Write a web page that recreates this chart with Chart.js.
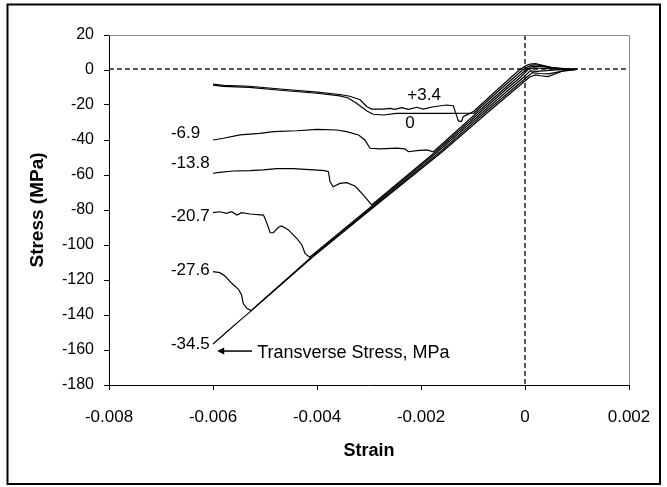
<!DOCTYPE html>
<html>
<head>
<meta charset="utf-8">
<script src="https://cdn.jsdelivr.net/npm/chart.js@4.4.0/dist/chart.umd.min.js"></script>
<style>
  html, body { margin: 0; padding: 0; background: #fff; }
</style>
</head>
<body>
<canvas id="myChart" width="667" height="487"></canvas>
<script>
// [strain, stress MPa] pairs, one list per transverse stress level
const curveP34 = [[-0.006,-8],[-0.0058,-8.8],[-0.0053,-9.3],[-0.00465,-11],[-0.004,-12.6],[-0.00356,-14],[-0.00337,-15],[-0.00317,-17],[-0.00304,-21],[-0.00295,-22.3],[-0.00272,-22.3],[-0.0026,-21.9],[-0.0025,-22.5],[-0.00237,-21.5],[-0.00224,-22.5],[-0.00208,-21.3],[-0.00196,-22.3],[-0.00176,-21],[-0.00151,-20],[-0.00138,-20.4],[-0.00133,-24.8],[-0.00128,-29.1],[-0.00122,-29.5],[-0.00119,-26.7],[-0.00106,-24.8],[-0.00098,-23.4],[-0.00056,-12],[-0.00026,-4],[-0.00011,0],[0.00002,2.5],[0.0001,3.4],[0.0002,3.6],[0.0003,3],[0.0005,1.5],[0.0008,0.6],[0.001,0.4]];
const curve0 = [[-0.006,-8.6],[-0.0058,-9.4],[-0.0053,-9.9],[-0.00465,-11.7],[-0.004,-13.3],[-0.00356,-14.8],[-0.0034,-16],[-0.00324,-19],[-0.00304,-23.4],[-0.00292,-25.3],[-0.00272,-25.7],[-0.00247,-24.8],[-0.0015,-24.8],[-0.00098,-24.6],[-0.00051,-12],[-0.0002,-4],[-0.00005,0],[0.00008,2.2],[0.0002,3],[0.00035,2.4],[0.0006,1],[0.001,0.4]];
const curveM69 = [[-0.006,-40],[-0.0058,-39],[-0.00548,-37.1],[-0.0051,-36.2],[-0.00484,-35.2],[-0.00439,-34.7],[-0.004,-33.9],[-0.00362,-34.3],[-0.00343,-35.2],[-0.0032,-37.1],[-0.00308,-40],[-0.00298,-44.7],[-0.00279,-45.1],[-0.00247,-44.7],[-0.00231,-45.1],[-0.00224,-46.7],[-0.00208,-46.1],[-0.00189,-45.7],[-0.00176,-46.7],[-0.00093,-24.6],[-0.00045,-12],[-0.00014,-4],[0.00001,0],[0.00012,1.8],[0.00025,2.2],[0.0004,1.6],[0.0007,0.6],[0.001,0.3]];
const curveM138 = [[-0.006,-59],[-0.00587,-58.5],[-0.00561,-57.7],[-0.00529,-57.5],[-0.00503,-57.1],[-0.00478,-56.4],[-0.00446,-56.4],[-0.00407,-57.1],[-0.00385,-57.5],[-0.00378,-58.1],[-0.00375,-63.8],[-0.00369,-66.7],[-0.00356,-64.8],[-0.00343,-64.4],[-0.00327,-66.3],[-0.00311,-71.4],[-0.00295,-77.1],[-0.00172,-46.7],[-0.00088,-24.6],[-0.0004,-12],[-0.00008,-4],[0.00006,0.3],[0.00018,1.2],[0.00032,1],[0.0006,0.5],[0.001,0.3]];
const curveM207 = [[-0.006,-81.5],[-0.00587,-81],[-0.00574,-81.9],[-0.00564,-81],[-0.00554,-82.9],[-0.00545,-81.5],[-0.00529,-82.3],[-0.00503,-82.9],[-0.005,-84.8],[-0.00494,-89.5],[-0.0049,-93],[-0.00484,-93],[-0.00474,-89.9],[-0.00468,-89.1],[-0.00455,-91.4],[-0.00439,-96.2],[-0.00429,-100],[-0.00423,-104.8],[-0.00414,-107],[-0.00292,-77.1],[-0.00168,-46.7],[-0.00083,-24.6],[-0.00034,-12],[-0.00002,-4],[0.0001,-0.5],[0.00022,-0.8],[0.00035,-0.5],[0.0006,0],[0.001,0.3]];
const curveM276 = [[-0.006,-115.2],[-0.00587,-115.8],[-0.00577,-117.7],[-0.00564,-121.9],[-0.00551,-125.3],[-0.00545,-128.6],[-0.00542,-133.3],[-0.00535,-136.2],[-0.00527,-137.5],[-0.00411,-107],[-0.00289,-77.1],[-0.00163,-46.7],[-0.00078,-24.6],[-0.00028,-12],[0.00004,-4],[0.00014,-1.5],[0.00028,-2],[0.00045,-2.2],[0.0007,-0.8],[0.001,0.3]];
const curveM345 = [[-0.006,-156.6],[-0.00571,-149],[-0.00547,-142.8],[-0.00526,-137.5],[-0.00409,-107],[-0.00286,-77.1],[-0.00159,-46.7],[-0.00073,-24.6],[-0.00023,-12],[0.00009,-4],[0.0002,-2.8],[0.0003,-3.3],[0.00044,-3.8],[0.0006,-2],[0.00075,-0.3],[0.001,0.3]];

const curves = [curveP34, curve0, curveM69, curveM138, curveM207, curveM276, curveM345];

// reference lines
const zeroStrainLine = [[0, 20], [0, -180]];
const zeroStressLine = [[-0.008, 0.6], [0.002, 0.6]];

// curve labels: text and anchor (strain, stress)
const labelTexts = ['+3.4', '0', '-6.9', '-13.8', '-20.7', '-27.6', '-34.5'];
const labelStrain = [-0.00194, -0.00221, -0.00681, -0.00681, -0.00681, -0.00681, -0.00681];
const labelStress = [-14.5, -30.5, -36, -53.1, -83.4, -114.3, -156.6];

const noteText = 'Transverse Stress, MPa';
const FONT = "'Liberation Sans', Arial, sans-serif";
Chart.defaults.font.family = FONT;
Chart.defaults.color = '#000';

const toXY = pts => pts.map(([x, y]) => ({ x, y }));

const datasets = curves.map(c => ({
    data: toXY(c),
    showLine: true,
    borderColor: '#000',
    borderWidth: 1.2,
    pointRadius: 0,
    tension: 0,
    order: 1
}));
[zeroStrainLine, zeroStressLine].forEach(l => {
    datasets.push({
        data: toXY(l),
        showLine: true,
        borderColor: '#222',
        borderWidth: 1.5,
        borderDash: [5, 3],
        pointRadius: 0,
        order: 2
    });
});

const decorations = {
    id: 'decorations',
    afterDraw(chart) {
        const { ctx, chartArea: a, scales: { x, y } } = chart;
        ctx.save();
        // grey top / right frame of plot area
        ctx.strokeStyle = '#8c8c8c';
        ctx.lineWidth = 1;
        ctx.beginPath();
        ctx.moveTo(a.left, a.top + 0.5);
        ctx.lineTo(a.right + 0.5, a.top + 0.5);
        ctx.lineTo(a.right + 0.5, a.bottom);
        ctx.stroke();

        // curve labels
        ctx.fillStyle = '#000';
        ctx.textBaseline = 'middle';
        ctx.font = '17px ' + FONT;
        labelTexts.forEach((t, i) => {
            ctx.textAlign = i < 2 ? 'center' : 'left';
            ctx.fillText(t, x.getPixelForValue(labelStrain[i]), y.getPixelForValue(labelStress[i]));
        });

        // arrow + note
        const ay = y.getPixelForValue(-160.6);
        const ax0 = x.getPixelForValue(-0.00525);
        const ax1 = x.getPixelForValue(-0.00592);
        ctx.strokeStyle = '#000';
        ctx.lineWidth = 1.5;
        ctx.beginPath();
        ctx.moveTo(ax0, ay);
        ctx.lineTo(ax1 + 4, ay);
        ctx.stroke();
        ctx.beginPath();
        ctx.moveTo(ax1, ay);
        ctx.lineTo(ax1 + 7, ay - 3.5);
        ctx.lineTo(ax1 + 7, ay + 3.5);
        ctx.closePath();
        ctx.fill();
        ctx.textAlign = 'left';
        ctx.font = '18px ' + FONT;
        ctx.fillText(noteText, x.getPixelForValue(-0.00515), y.getPixelForValue(-161.7));

        // outer frame
        ctx.lineWidth = 2;
        ctx.strokeRect(7.5, 4.5, 652.5, 479.5);
        ctx.restore();
    }
};

const ctx = document.getElementById('myChart').getContext('2d');
const chart = new Chart(ctx, {
    type: 'scatter',
    data: { datasets },
    options: {
        responsive: false,
        animation: false,
        devicePixelRatio: 1,
        layout: { padding: { left: 0, top: 35, right: 38, bottom: 0 } },
        plugins: { legend: { display: false }, tooltip: { enabled: false } },
        scales: {
            x: {
                type: 'linear',
                min: -0.008,
                max: 0.002,
                ticks: {
                    stepSize: 0.002,
                    padding: 17,
                    font: { size: 17 },
                    color: '#000',
                    callback: v => String(Math.round(v * 1000) / 1000)
                },
                grid: { drawOnChartArea: false, drawTicks: true, tickLength: 5, color: '#000' },
                border: { color: '#000', width: 1 },
                title: { display: true, text: 'Strain', font: { size: 18, weight: 'bold' }, color: '#000', padding: { top: 0, bottom: 25 } },
                afterFit: s => { s.height = 102; s.paddingLeft = 0; s.paddingRight = 0; }
            },
            y: {
                min: -180,
                max: 20,
                ticks: { stepSize: 20, padding: 10, font: { size: 16 }, color: '#000' },
                grid: { drawOnChartArea: false, drawTicks: true, tickLength: 5, color: '#000' },
                border: { color: '#000', width: 1 },
                title: { display: true, text: 'Stress (MPa)', font: { size: 19, weight: 'bold' }, color: '#000', padding: { top: 26, bottom: 0 } },
                afterFit: s => { s.width = 109; s.paddingTop = 0; s.paddingBottom = 0; }
            }
        }
    },
    plugins: [decorations]
});
</script>
</body>
</html>
